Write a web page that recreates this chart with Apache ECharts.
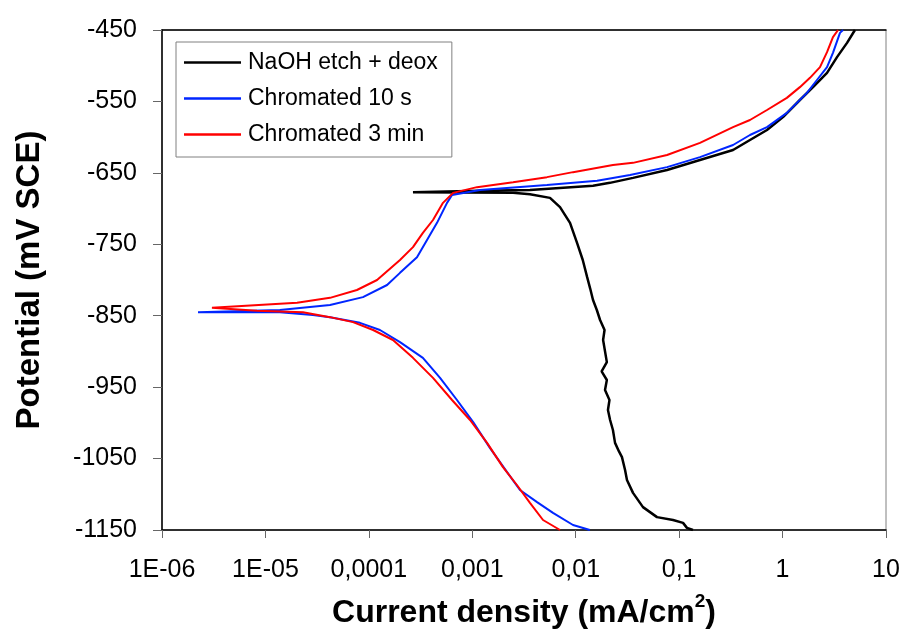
<!DOCTYPE html>
<html>
<head>
<meta charset="utf-8">
<script src="https://cdn.jsdelivr.net/npm/echarts@6/dist/echarts.min.js"></script>
<style>
html,body{margin:0;padding:0;background:#fff;}
#chart{width:905px;height:642px;}
</style>
</head>
<body>
<div id="chart"></div>
<script>
// ---- data (current density in mA/cm2, potential in mV SCE) ----
var seriesNames = ['NaOH etch + deox', 'Chromated 10 s', 'Chromated 3 min'];

var naohI = [0.136, 0.119, 0.109, 0.0873, 0.0611, 0.0447, 0.0358, 0.0313, 0.0300, 0.0280, 0.0262, 0.0240, 0.0229, 0.0215, 0.0205, 0.0212, 0.0192, 0.0200, 0.0178, 0.0200, 0.0184, 0.0190, 0.0172, 0.0160, 0.0147, 0.0138, 0.0129, 0.0117, 0.0103, 0.00881, 0.00705, 0.00564, 0.00361, 0.00248, 0.000267,
             0.00119, 0.00361, 0.0147, 0.0214, 0.0358, 0.0764, 0.159, 0.332, 0.484, 0.707, 1.01, 1.47, 1.97, 2.69, 3.36, 4.20, 5.01];
var naohE = [-1150, -1147, -1140, -1136, -1132, -1118, -1098, -1080, -1066, -1048, -1040, -1028, -1010, -996, -982, -968, -954, -940, -928, -915, -884, -870, -856, -842, -828, -812, -796, -772, -748, -720, -698, -685, -680, -678, -677,
             -675, -674, -668, -664, -657, -646, -632, -618, -604, -590, -572, -548, -530, -510, -488, -468, -450];

var chr10I = [0.0137, 0.00942, 0.00603, 0.00423, 0.00289, 0.00217, 0.00148, 0.00102, 0.000711, 0.000488, 0.000333, 0.000200, 0.000128, 0.0000820, 0.0000421, 0.0000288, 0.0000138, 0.00000223,
              0.0000138, 0.0000421, 0.0000877, 0.000150, 0.000200, 0.000292, 0.000365, 0.000456, 0.000570, 0.000637, 0.00119, 0.00527, 0.0161, 0.0335, 0.0764, 0.159, 0.332, 0.484, 0.707, 1.10, 1.72, 2.15, 2.69, 3.07, 3.59, 3.84];
var chr10E = [-1150, -1143, -1126, -1111, -1094, -1069, -1035, -999, -968, -937, -909, -887, -870, -860, -852, -849, -845, -845,
              -842, -835, -824, -807, -790, -768, -744, -720, -692, -681, -674, -667, -661, -653, -642, -628, -611, -597, -586, -566, -538, -520, -502, -482, -454, -450];

var chr3I = [0.00705, 0.00483, 0.00361, 0.00270, 0.00198, 0.00139, 0.000951, 0.000637, 0.000417, 0.000267, 0.000171, 0.000110, 0.0000703, 0.0000421, 0.0000231, 0.00000828, 0.00000304,
             0.0000202, 0.0000421, 0.0000767, 0.000120, 0.000200, 0.000267, 0.000333, 0.000417, 0.000521, 0.000652, 0.00111, 0.00248, 0.00527, 0.00942, 0.0229, 0.0358, 0.0764, 0.159, 0.332, 0.484, 0.707, 1.10, 1.47, 1.84, 2.30, 2.69, 3.07, 3.44];
var chr3E = [-1150, -1136, -1112, -1087, -1062, -1028, -996, -968, -937, -909, -884, -870, -859, -852, -845, -843, -839,
             -832, -825, -814, -800, -772, -754, -734, -716, -692, -678, -670, -663, -656, -649, -639, -636, -625, -608, -586, -576, -562, -545, -530, -517, -502, -481, -460, -450];

var xTickLabels = ['1E-06', '1E-05', '0,0001', '0,001', '0,01', '0,1', '1', '10'];
var yMin = -1150, yMax = -450, yStep = 100;

function zip(a, b) { return a.map(function (v, i) { return [v, b[i]]; }); }

var chart = echarts.init(document.getElementById('chart'), null, {renderer: 'canvas'});
var FONT = '"Liberation Sans", Arial, sans-serif';

chart.setOption({
  animation: false,
  backgroundColor: '#fff',
  grid: {left: 162, right: 19, top: 30, bottom: 112, show: true, borderColor: '#808080', borderWidth: 1, backgroundColor: 'transparent'},
  legend: {
    left: 176, top: 42, orient: 'vertical',
    padding: [9, 14, 11, 8],
    itemGap: 13, itemWidth: 57, itemHeight: 2.5,
    icon: 'rect',
    borderColor: '#808080', borderWidth: 1, backgroundColor: '#fff',
    textStyle: {fontFamily: FONT, fontSize: 23, color: '#000', padding: [0, 0, 0, 2]},
    data: seriesNames
  },
  xAxis: [{
    type: 'log', logBase: 10, min: 1e-6, max: 10,
    name: 'Current density (mA/cm{sup|2})',
    nameLocation: 'middle', nameGap: 62,
    nameTextStyle: {fontFamily: FONT, fontSize: 32, fontWeight: 'bold', color: '#000',
      rich: {sup: {fontFamily: FONT, fontSize: 19, fontWeight: 'bold', color: '#000', verticalAlign: 'top', padding: [0, 0, 24, 0]}}},
    axisLine: {lineStyle: {color: '#000', width: 1.5}},
    axisTick: {show: true, inside: false, length: 8, lineStyle: {color: '#666', width: 1}},
    minorTick: {show: false},
    splitLine: {show: false},
    axisLabel: {margin: 28, fontFamily: FONT, fontSize: 25, color: '#000',
      formatter: function (v) { var k = Math.round(Math.log10(v)) + 6; return xTickLabels[k] || ''; }}
  }, {
    type: 'log', logBase: 10, min: 1e-6, max: 10, position: 'top',
    axisLine: {show: true, lineStyle: {color: '#000', width: 1.5}},
    axisTick: {show: false}, axisLabel: {show: false}, splitLine: {show: false}
  }],
  yAxis: {
    type: 'value', min: yMin, max: yMax, interval: yStep,
    name: 'Potential (mV SCE)',
    nameLocation: 'middle', nameGap: 116,
    nameTextStyle: {fontFamily: FONT, fontSize: 33, fontWeight: 'bold', color: '#000'},
    axisLine: {show: true, lineStyle: {color: '#000', width: 1.5}},
    axisTick: {show: true, inside: false, length: 9, lineStyle: {color: '#666', width: 1}},
    splitLine: {show: false},
    axisLabel: {margin: 25, fontFamily: FONT, fontSize: 25, color: '#000',
      formatter: function (v) { return String(v); }}
  },
  series: [
    {name: seriesNames[0], type: 'line', data: zip(naohI, naohE), symbol: 'none', showSymbol: false, lineStyle: {color: '#000', width: 2.5}, itemStyle: {color: '#000'}},
    {name: seriesNames[1], type: 'line', data: zip(chr10I, chr10E), symbol: 'none', showSymbol: false, lineStyle: {color: '#0026ff', width: 2}, itemStyle: {color: '#0026ff'}},
    {name: seriesNames[2], type: 'line', data: zip(chr3I, chr3E), symbol: 'none', showSymbol: false, lineStyle: {color: '#ff0000', width: 2}, itemStyle: {color: '#ff0000'}}
  ]
});
</script>
</body>
</html>
